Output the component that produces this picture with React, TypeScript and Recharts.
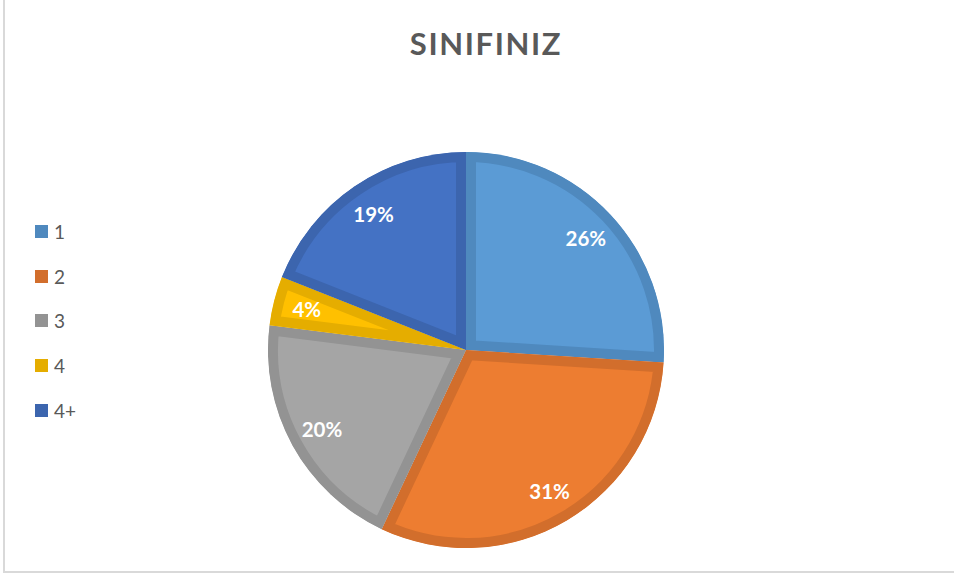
import { PieChart, Pie, Cell, Legend, Sector } from 'recharts'

const categories = ['1', '2', '3', '4', '4+']
const shares = [26, 31, 20, 4, 19]
const fills = ['#5B9BD5', '#ED7D31', '#A5A5A5', '#FFC000', '#4472C4']
const edges = ['#4F89BE', '#D26E2C', '#939393', '#E5AD00', '#3C65AE']

const data = categories.map((name, i) => ({ name, value: shares[i] }))

const RAD = Math.PI / 180

const renderSlice = (props: any) => {
  const i = categories.indexOf(props.name ?? props.payload?.name)
  const id = `slice-clip-${i}`
  return (
    <g>
      <defs>
        <clipPath id={id}>
          <Sector
            cx={props.cx}
            cy={props.cy}
            innerRadius={0}
            outerRadius={props.outerRadius}
            startAngle={props.startAngle}
            endAngle={props.endAngle}
          />
        </clipPath>
      </defs>
      <Sector
        cx={props.cx}
        cy={props.cy}
        innerRadius={0}
        outerRadius={props.outerRadius}
        startAngle={props.startAngle}
        endAngle={props.endAngle}
        fill={fills[i]}
        stroke={edges[i]}
        strokeWidth={20}
        clipPath={`url(#${id})`}
      />
    </g>
  )
}

const renderLabel = (props: any) => {
  const { cx, cy, midAngle, outerRadius, percent } = props
  const r = outerRadius * 0.83
  const x = cx + r * Math.cos(-midAngle * RAD)
  const y = cy + r * Math.sin(-midAngle * RAD)
  return (
    <text
      x={x}
      y={y}
      fill="#ffffff"
      textAnchor="middle"
      dominantBaseline="central"
      fontFamily="Lato, sans-serif"
      fontWeight={700}
      fontSize={20.5}
    >
      {`${Math.round(percent * 100)}%`}
    </text>
  )
}

const renderLegend = () => (
  <div style={{ fontFamily: 'Lato, sans-serif', fontSize: 19, color: '#595959' }}>
    {categories.map((c, i) => (
      <div key={c} style={{ display: 'flex', alignItems: 'center', height: 44.7 }}>
        <span
          style={{ display: 'inline-block', width: 13, height: 13, background: edges[i], marginRight: 6 }}
        />
        <span>{c}</span>
      </div>
    ))}
  </div>
)

export default function App() {
  return (
    <div style={{ position: 'absolute', left: 0, top: 0, width: 954, height: 578, background: '#fff' }}>
      <div
        style={{
          position: 'absolute',
          left: 3,
          top: -2,
          width: 960,
          height: 573,
          borderLeft: '2px solid #d9d9d9',
          borderBottom: '2px solid #d9d9d9',
        }}
      />
      <div
        style={{
          position: 'absolute',
          left: 0,
          top: 24,
          width: 972,
          textAlign: 'center',
          fontFamily: 'Lato, sans-serif',
          fontWeight: 700,
          fontSize: 31,
          letterSpacing: 1.6,
          color: '#595959',
        }}
      >
        SINIFINIZ
      </div>
      <PieChart
        width={954}
        height={578}
        margin={{ top: 0, right: 0, bottom: 0, left: 0 }}
        style={{ position: 'absolute', left: 0, top: 0 }}
      >
        <Pie
          data={data}
          dataKey="value"
          nameKey="name"
          cx={466}
          cy={350}
          outerRadius={198}
          startAngle={90}
          endAngle={-270}
          stroke="none"
          labelLine={false}
          label={renderLabel}
          shape={renderSlice}
          isAnimationActive={false}
        >
          {data.map((d, i) => (
            <Cell key={d.name} fill={fills[i]} />
          ))}
        </Pie>
        <Legend
          layout="vertical"
          content={renderLegend}
          wrapperStyle={{ position: 'absolute', left: 35, top: 209, width: 80 }}
        />
      </PieChart>
    </div>
  )
}
